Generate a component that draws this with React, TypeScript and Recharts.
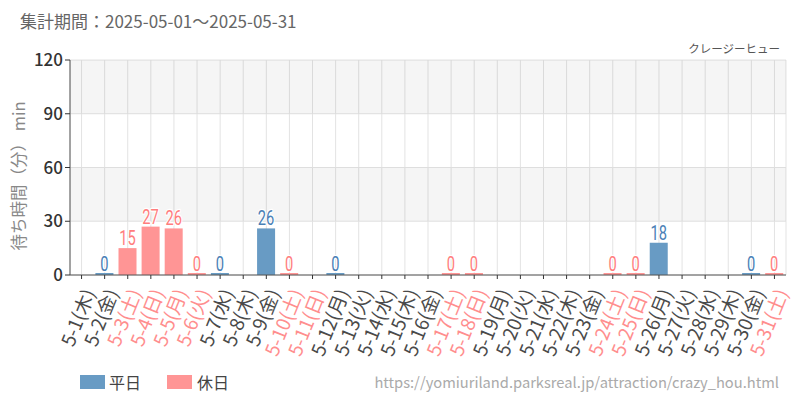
import React from 'react';
import { BarChart, Bar, XAxis, YAxis, CartesianGrid, ReferenceArea, LabelList, Cell } from 'recharts';

const dates = ['5-1','5-2','5-3','5-4','5-5','5-6','5-7','5-8','5-9','5-10','5-11','5-12','5-13','5-14','5-15','5-16','5-17','5-18','5-19','5-20','5-21','5-22','5-23','5-24','5-25','5-26','5-27','5-28','5-29','5-30','5-31'];
const dows = ['木','金','土','日','月','火','水','木','金','土','日','月','火','水','木','金','土','日','月','火','水','木','金','土','日','月','火','水','木','金','土'];
const holidays = [false,false,true,true,true,true,false,false,false,true,true,false,false,false,false,false,true,true,false,false,false,false,false,true,true,false,false,false,false,false,true];
const waitMinutes: (number | null)[] = [null,0,15,27,26,0,0,null,26,0,null,0,null,null,null,null,0,0,null,null,null,null,null,0,0,18,null,null,null,0,0];
const yTicks = [0, 30, 60, 90, 120];

const data = dates.map((d, i) => ({ name: d, label: `${d}(${dows[i]})`, value: waitMinutes[i], holiday: holidays[i] }));

const WEEKDAY_BAR = '#689bc4';
const HOLIDAY_BAR = '#ff9595';
const WEEKDAY_LABEL = '#4a80b6';
const HOLIDAY_LABEL = '#ff7d7d';
const FONT = '"Noto Sans CJK JP", "Noto Sans", sans-serif';

const BarShape = (props: any) => {
  const { x, y, width, height, payload, fill } = props;
  if (!payload || payload.value == null) return <g />;
  if (payload.value === 0) {
    return <rect x={x} y={y - 2} width={width} height={2} fill={fill} />;
  }
  return <rect x={x} y={y} width={width} height={height} fill={fill} />;
};

const labelKey = (d: any) => (d.value == null ? null : `${d.value}|${d.holiday ? 1 : 0}`);

const ValueLabel = (props: any) => {
  const { x, y, width, value } = props;
  if (value == null) return null;
  const [v, h] = String(value).split('|');
  const num = Number(v);
  const cx = x + width / 2;
  const by = num === 0 ? y - 4 : y - 3;
  const color = h === '1' ? HOLIDAY_LABEL : WEEKDAY_LABEL;
  return (
    <g transform={`translate(${cx},${by}) scale(0.7,1)`}>
      <text x={0} y={0} textAnchor="middle" fontFamily="Roboto, sans-serif" fontSize={21} fill={color}
        stroke="#fff" strokeWidth={2.5} paintOrder="stroke" strokeLinejoin="round">{v}</text>
    </g>
  );
};

const XTick = (props: any) => {
  const { x, y, payload } = props;
  const i = dates.indexOf(payload.value);
  const color = holidays[i] ? '#ff8e8e' : '#4a4a4a';
  return (
    <g transform={`translate(${x + 8},${y + 9}) rotate(-68)`}>
      <text x={0} y={0} dy="0.35em" textAnchor="end" fontFamily={FONT} fontSize={19} fill={color}>{data[i].label}</text>
    </g>
  );
};

export default function App() {
  return (
    <div style={{ position: 'absolute', left: 0, top: 0, width: 800, height: 400, background: '#fff', fontFamily: FONT }}>
      <BarChart width={800} height={400} data={data} margin={{ top: 60, right: 14, left: 0, bottom: 0 }} barCategoryGap="10%">
        <ReferenceArea y1={90} y2={120} fill="#000" fillOpacity={0.04} stroke="none" ifOverflow="visible" />
        <ReferenceArea y1={30} y2={60} fill="#000" fillOpacity={0.04} stroke="none" ifOverflow="visible" />
        <CartesianGrid stroke="#e3e3e3" strokeWidth={1} />
        <XAxis dataKey="name" interval={0} height={125} tick={<XTick />} tickLine={{ stroke: '#333' }} axisLine={{ stroke: '#555' }} tickSize={4} />
        <YAxis width={70} domain={[0, 120]} ticks={yTicks} interval={0} tickSize={5}
          tick={{ fill: '#333', fontSize: 17, fontFamily: FONT, fontWeight: 500 }} tickLine={{ stroke: '#333' }} axisLine={{ stroke: '#555' }} />
        <Bar dataKey="value" isAnimationActive={false} shape={<BarShape />}>
          {data.map((d, i) => (
            <Cell key={i} fill={d.holiday ? HOLIDAY_BAR : WEEKDAY_BAR} />
          ))}
          <LabelList dataKey={labelKey} content={<ValueLabel />} />
        </Bar>
      </BarChart>
      <svg width={800} height={400} style={{ position: 'absolute', left: 0, top: 0, pointerEvents: 'none' }}>
        <text x={20} y={28} fontFamily={FONT} fontSize={17} fill="#666">集計期間：2025-05-01～2025-05-31</text>
        <text x={780} y={53} textAnchor="end" fontFamily={FONT} fontSize={11.5} fill="#555">クレージーヒュー</text>
        <text transform="translate(25,176) rotate(-90)" textAnchor="middle" fontFamily={FONT} fontSize={16.5} fill="#888">待ち時間（分） min</text>
        <rect x={80} y={375} width={25} height={14} fill={WEEKDAY_BAR} />
        <text x={109} y={389} fontFamily={FONT} fontSize={16} fill="#444">平日</text>
        <rect x={167} y={375} width={25} height={14} fill={HOLIDAY_BAR} />
        <text x={197} y={389} fontFamily={FONT} fontSize={16} fill="#444">休日</text>
        <text x={779} y={388} textAnchor="end" fontFamily={FONT} fontSize={14.7} fill="#aaa">https://yomiuriland.parksreal.jp/attraction/crazy_hou.html</text>
      </svg>
    </div>
  );
}
